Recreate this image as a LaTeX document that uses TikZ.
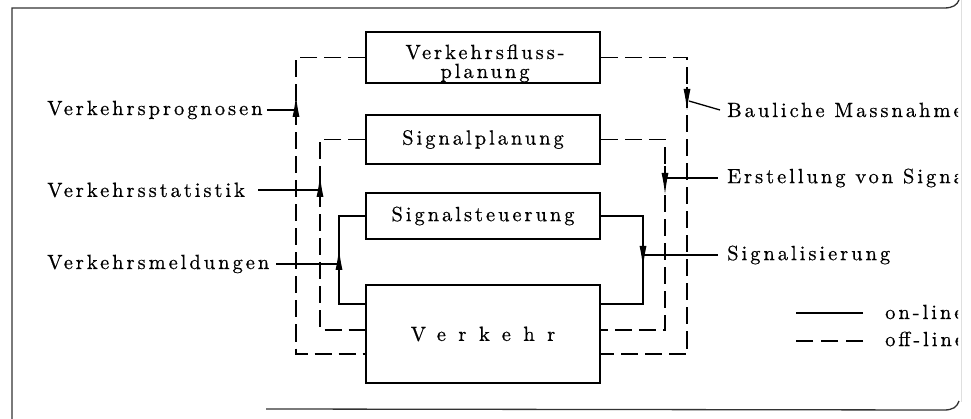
\documentclass[tikz,border=0pt]{standalone}
\usepackage{fontspec}
\usetikzlibrary{arrows.meta,calc}
\newfontfamily\lmspaced{lmroman10-regular.otf}[LetterSpace=14.5,FakeBold=0.6]
\newfontfamily\lmwide{lmroman10-regular.otf}[LetterSpace=61,FakeBold=0.6]
\newcommand\lblfont{\lmspaced\fontsize{20.5}{21}\selectfont}
\newcommand\wideverk{\lmwide\fontsize{20.5}{21}\selectfont}
\tikzset{
  box/.style={draw, line width=2pt, minimum width=234pt, inner sep=0pt, font=\lblfont},
  conn/.style={line width=1.3pt},
  dsh/.style={conn, dash pattern=on 17pt off 7pt},
  arr/.style={conn, -{Latex[length=22pt,width=7pt]}},
  lbl/.style={inner sep=0pt, font=\lblfont},
  frame/.style={draw=black!80, line width=1.3pt},
}
\begin{document}
\begin{tikzpicture}[x=1pt,y=-1pt]
\useasboundingbox (0,0) rectangle (971,419);
% frame
\draw[frame] (12,419) -- (12,8) -- (944,8) .. controls (953,8) and (957,5) .. (959,0);
\draw[frame] (266,409) -- (944,410) .. controls (953,410) and (957,407) .. (959,401);
\draw[gray!25, line width=1pt] (961,0) -- (961,402);
% boxes
\node[box, minimum height=51pt] (fluss) at (483,57.5) {};
\node[lbl, anchor=base] (fl1) at (485,59) {Verkehrsfluss-};
\node[lbl, anchor=base] (fl2) at (485,78) {planung};
\node[box, minimum height=49pt] (splan) at (483,139.5) {Signalplanung};
\node[box, minimum height=46pt] (ssteu) at (483,216) {Signalsteuerung};
\node[box, minimum height=98pt, font=\wideverk] (verk) at (483,334) {Verkehr};
% corner coordinates
\coordinate (A2) at (296,354);
\coordinate (B2) at (320,330);
\coordinate (C2) at (339,304);
\coordinate (D2) at (687,354);
\coordinate (E2) at (665,330);
\coordinate (F2) at (643,304);
% connectors
\draw[dsh] (fluss.west) -| (A2) -- (A2 -| verk.west);
\draw[dsh] (fluss.east) -| (D2) -- (D2 -| verk.east);
\draw[dsh] (splan.west) -| (B2) -- (B2 -| verk.west);
\draw[dsh] (splan.east) -| (E2) -- (E2 -| verk.east);
\draw[conn] (ssteu.west) -| (C2) -- (C2 -| verk.west);
\draw[conn] (ssteu.east) -| (F2) -- (F2 -| verk.east);
% arrowheads
\coordinate (a1) at (296,121); \coordinate (a1t) at (296,95);
\coordinate (a2) at (320,202); \coordinate (a2t) at (320,175);
\coordinate (a3) at (339,272); \coordinate (a3t) at (339,248);
\coordinate (a4) at (687,87);  \coordinate (a4t) at (687,111);
\coordinate (a5) at (665,166); \coordinate (a5t) at (665,195);
\coordinate (a6) at (643,247); \coordinate (a6t) at (643,268);
\foreach \s in {a1,a2,a3,a4,a5,a6} \draw[arr] (\s) -- (\s t);
% left labels
\node[lbl, anchor=west] (prog) at (47,110) {Verkehrsprognosen};
\node[lbl, anchor=west] (stat) at (47,190) {Verkehrsstatistik};
\node[lbl, anchor=west] (meld) at (47,264) {Verkehrsmeldungen};
\draw[conn] ([xshift=4pt]prog.east) -- (prog.east -| a1);
\draw[conn] ([xshift=13pt]stat.east) -- (stat.east -| a2);
\draw[conn] ([xshift=7pt]meld.east) -- (meld.east -| a3);
% right labels
\begin{scope}
\clip (0,0) rectangle (958,419);
\node[lbl, anchor=west] (baul) at (727,110) {Bauliche Massnahme};
\node[lbl, anchor=west] (erst) at (727,178) {Erstellung von Signa};
\node[lbl, anchor=west] (sig) at (727,255) {Signalisierung};
\node[lbl, anchor=west] (on) at (885,312) {on-line};
\node[lbl, anchor=west] (off) at (885,339) {off-line};
\end{scope}
\coordinate (bt) at (689,101);
\draw[conn] (bt) -- ([xshift=-7pt]baul.west);
\draw[conn] (erst.west -| a5) -- ([xshift=-9pt]erst.west);
\draw[conn] (sig.west -| a6) -- ([xshift=-9pt]sig.west);
% legend
\draw[conn, line width=1.8pt] ([xshift=-22pt,yshift=-1pt]on.west) -- ([xshift=-89pt,yshift=-1pt]on.west);
\draw[conn, line width=1.8pt, dash pattern=on 17pt off 8pt] ([xshift=-22pt,yshift=-2pt]off.west) -- ([xshift=-89pt,yshift=-2pt]off.west);
\end{tikzpicture}
\end{document}
